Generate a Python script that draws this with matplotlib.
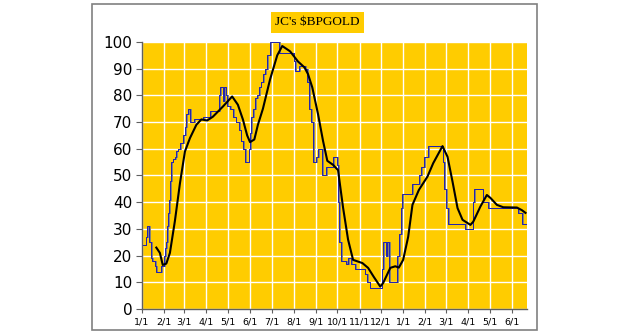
import numpy as np
import pandas as pd
import matplotlib
matplotlib.use('Agg')
import matplotlib.pyplot as plt
import matplotlib.dates as mdates
from matplotlib.patches import Rectangle

# start of chart
start = pd.Timestamp('2007-01-01')
end_day = 538

# step series: day offset from start, value (held until next day)
bp_days = [0, 5, 7, 10, 13, 14, 18, 20, 27, 31, 32, 34, 35, 37, 38, 39, 41, 43, 46, 48,
           50, 53, 57, 60, 62, 64, 67, 73, 85, 95, 108, 109, 113, 115, 117, 119, 123, 127,
           131, 136, 138, 141, 144, 149, 151, 153, 155, 158, 161, 164, 166, 169, 172, 175,
           179, 192, 212, 214, 220, 228, 231, 234, 236, 239, 243, 246, 252, 257, 267, 273,
           274, 276, 278, 285, 288, 292, 298, 311, 315, 318, 335, 337, 341, 343, 345, 357,
           359, 362, 364, 378, 387, 390, 394, 400, 420, 422, 425, 428, 452, 462, 464, 476,
           484, 526, 531, 538]
bp_vals = [24, 27, 31, 25, 19, 18, 16, 14, 16, 20, 23, 25, 31, 36, 41, 48, 55, 56, 57, 59,
           60, 62, 65, 68, 73, 75, 70, 71, 72, 74, 80, 83, 78, 83, 80, 76, 75, 72,
           70, 67, 63, 60, 55, 60, 66, 72, 75, 79, 80, 83, 85, 88, 90, 95,
           100, 96, 93, 89, 91, 90, 85, 75, 70, 55, 57, 60, 50, 53, 57, 54,
           40, 25, 18, 17, 19, 17, 15, 13, 10, 8, 15, 25, 20, 25, 10, 20,
           28, 38, 43, 47, 50, 53, 57, 61, 55, 45, 38, 32, 30, 40, 45, 40,
           38, 36, 32, 32]

# smoothed average
ma_days = [20, 25, 29, 34, 39, 46, 53, 60, 67, 76, 83, 91, 99, 113, 126, 134, 141, 147,
           151, 157, 162, 169, 179, 189, 196, 207, 218, 227, 232, 238, 246, 253, 259, 267,
           274, 281, 288, 295, 308, 316, 324, 333, 337, 347, 354, 359, 365, 372, 378, 387,
           399, 407, 420, 427, 434, 441, 448, 459, 463, 473, 482, 487, 496, 505, 524, 531, 536]
ma_vals = [23, 21, 16.5, 17, 21, 33, 47, 59, 64, 69, 71, 70.6, 72, 75.8, 79.6, 76.5, 71, 65,
           62.5, 63.5, 69, 75, 86, 95, 98.5, 96.5, 92.7, 90.5, 88, 83, 73, 63, 55.5, 54,
           52, 38, 26, 18.4, 17.2, 15.4, 12, 8.4, 9.7, 15.4, 16, 15.5, 18.4, 27, 39, 44.6,
           49.6, 54.6, 61, 57, 47.7, 37.8, 33.4, 31.5, 32.7, 38.4, 42.7, 41.6, 39, 38.1, 38, 37, 36]

bp_dates = start + pd.to_timedelta(bp_days, unit='D')
ma_dates = start + pd.to_timedelta(ma_days, unit='D')

gold = '#FFCC00'

fig = plt.figure(figsize=(6.3, 3.36), dpi=100)
fig.patches.append(Rectangle((0.146, 0.018), 0.706, 0.970, transform=fig.transFigure,
                             facecolor='white', edgecolor='#808080', linewidth=1.2,
                             zorder=-5))

ax = fig.add_axes([0.2254, 0.0804, 0.611, 0.7946])
ax.set_facecolor(gold)

ax.step(bp_dates + pd.Timedelta(days=1), bp_vals, where='post', color='#808080', lw=0.7)
ax.step(bp_dates, bp_vals, where='post', color='#2020b0', lw=0.7)
ax.plot(ma_dates, ma_vals, color='black', lw=1.5)

ax.set_xlim(start, start + pd.Timedelta(days=end_day))
ax.set_ylim(0, 100)
ax.set_yticks(np.arange(0, 101, 10))
ax.xaxis.set_major_locator(mdates.MonthLocator())
ax.xaxis.set_major_formatter(plt.FuncFormatter(
    lambda v, p: '%d/%d' % (mdates.num2date(v).month, mdates.num2date(v).day)))

ax.grid(True, color='white', lw=1.0)
ax.set_axisbelow(True)
for s in ['top', 'right']:
    ax.spines[s].set_visible(False)
for s in ['left', 'bottom']:
    ax.spines[s].set_color('#606060')
    ax.spines[s].set_linewidth(1.0)
ax.tick_params(axis='y', labelsize=11, length=4, color='#606060', pad=3)
ax.tick_params(axis='x', labelsize=6.8, length=3, color='#606060', pad=3)

fig.text(0.504, 0.934, "JC's $BPGOLD", ha='center', va='center', fontsize=9.5,
         family='Liberation Serif',
         bbox=dict(boxstyle='square,pad=0.35', facecolor=gold, edgecolor='none'))

fig.savefig('out.png', dpi=100)
